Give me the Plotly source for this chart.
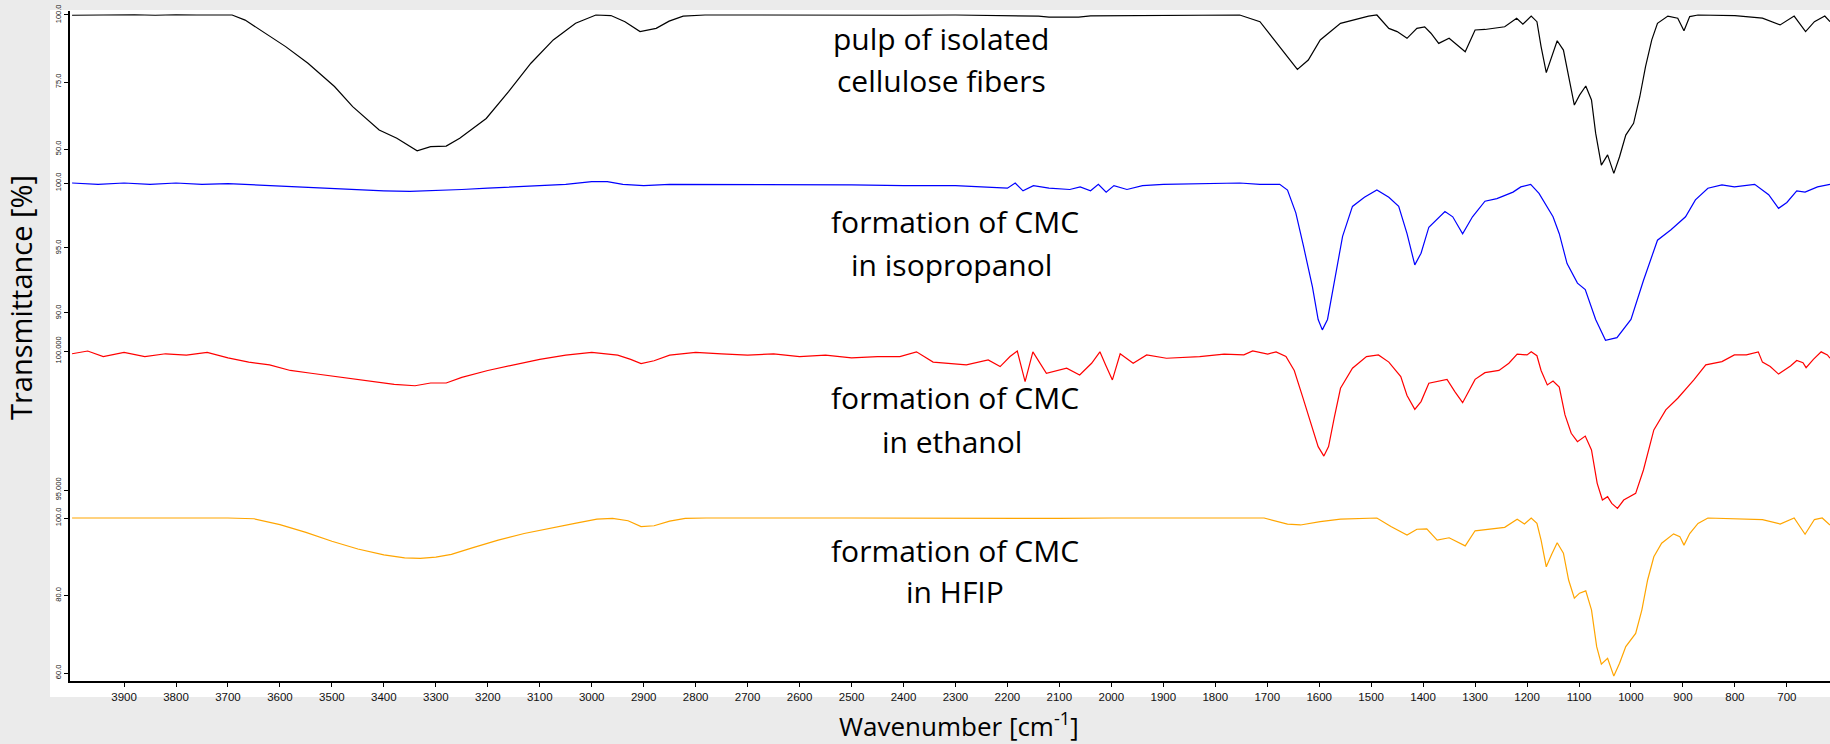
import plotly.graph_objects as go

# ---------------- data (wavenumber cm-1, transmittance %) ----------------
BLACK = [(4000,99.9),(3960,100.0),(3920,99.9),(3880,100.1),(3840,99.9),(3800,100.1),(3760,100.0),(3720,100.1),
         (3692,100.0),(3667,98.1),(3630,93.5),(3589,88.2),(3546,82.0),(3495,73.3),(3460,65.8),(3409,57.1),
         (3375,54.0),(3336,49.3),(3310,50.9),(3280,51.1),(3254,54.0),(3203,61.4),(3160,71.4),(3117,82.0),
         (3074,90.7),(3031,96.9),(2992,100.0),(2963,99.8),(2936,97.5),(2907,93.8),(2876,95.0),(2851,97.7),
         (2824,99.6),(2782,100.0),(2700,100.0),(2600,99.9),(2500,100.0),(2400,99.9),(2300,100.0),(2200,99.8),
         (2140,99.6),(2120,99.2),(2063,99.2),(2040,99.7),(1950,99.8),(1850,99.9),(1780,100.0),(1753,100.0),
         (1714,97.5),(1676,88.2),(1642,79.7),(1621,83.2),(1598,90.7),(1559,96.9),(1505,99.6),(1489,100.0),
         (1466,95.0),(1450,93.8),(1431,91.3),(1412,95.0),(1397,95.6),(1385,93.2),(1370,89.4),(1350,91.3),
         (1335,88.8),(1319,86.3),(1300,94.4),(1281,94.6),(1243,95.6),(1220,98.8),(1208,96.6),(1192,99.6),
         (1181,97.5),(1173,88.2),(1163,78.5),(1153,84.5),(1142,90.4),(1130,86.9),(1118,75.7),(1109,66.4),
         (1099,70.1),(1087,73.5),(1076,68.3),(1068,55.9),(1057,44.0),(1045,47.8),(1033,40.9),(1022,47.1),
         (1010,55.2),(995,59.6),(983,69.5),(972,80.7),(960,90.7),(949,96.9),(929,99.6),(910,98.8),(898,94.1),
         (887,99.4),(871,100.0),(800,99.8),(747,98.8),(713,96.3),(686,99.6),(664,93.8),(647,97.5),(627,99.6),
         (617,97.5)]

BLUE = [(4000,100.0),(3950,99.9),(3900,100.0),(3850,99.9),(3800,100.0),(3750,99.9),(3700,99.95),(3650,99.85),
        (3600,99.8),(3550,99.7),(3500,99.6),(3450,99.5),(3400,99.4),(3350,99.35),(3300,99.4),(3250,99.5),
        (3200,99.6),(3150,99.7),(3100,99.8),(3050,99.9),(3000,100.1),(2970,100.1),(2940,99.9),(2900,99.8),
        (2850,99.9),(2800,99.9),(2700,99.85),(2600,99.9),(2500,99.85),(2400,99.8),(2300,99.8),(2250,99.7),
        (2200,99.6),(2185,100.0),(2170,99.4),(2150,99.8),(2120,99.6),(2080,99.5),(2060,99.7),(2040,99.4),
        (2025,99.9),(2010,99.3),(1995,99.8),(1970,99.5),(1940,99.8),(1900,99.9),(1850,99.95),(1800,100.0),
        (1753,100.0),(1714,99.9),(1676,99.9),(1661,99.46),(1645,97.7),(1630,95.1),(1613,92.0),(1602,89.5),
        (1594,88.7),(1584,89.5),(1571,92.5),(1555,95.9),(1536,98.2),(1513,98.9),(1489,99.46),(1466,98.9),
        (1447,98.2),(1431,96.1),(1416,93.7),(1404,94.6),(1389,96.6),(1358,97.8),(1343,97.4),(1324,96.1),
        (1305,97.4),(1281,98.6),(1258,98.8),(1227,99.3),(1212,99.7),(1193,99.9),(1177,99.2),(1150,97.4),
        (1138,96.1),(1123,93.8),(1103,92.3),(1088,91.8),(1068,89.5),(1049,87.9),(1027,88.1),(1000,89.5),
        (976,92.5),(949,95.6),(923,96.4),(895,97.4),(876,98.7),(852,99.6),(825,99.85),(801,99.7),(762,99.9),
        (735,99.1),(716,98.05),(700,98.5),(681,99.4),(665,99.3),(641,99.7),(622,99.9),(617,99.9)]

RED = [(4000,99.9),(3970,100.0),(3940,99.8),(3900,99.95),(3860,99.8),(3820,99.9),(3780,99.85),(3740,99.95),
       (3700,99.75),(3660,99.6),(3620,99.5),(3580,99.3),(3540,99.2),(3500,99.1),(3460,99.0),(3420,98.9),
       (3380,98.8),(3340,98.75),(3310,98.85),(3280,98.85),(3250,99.05),(3200,99.3),(3150,99.5),(3100,99.7),
       (3050,99.85),(3000,99.95),(2950,99.85),(2925,99.7),(2905,99.55),(2880,99.65),(2850,99.85),(2800,99.95),
       (2750,99.9),(2700,99.85),(2650,99.9),(2600,99.8),(2550,99.85),(2500,99.75),(2450,99.8),(2407,99.8),
       (2375,99.97),(2343,99.6),(2279,99.5),(2237,99.68),(2214,99.44),(2195,99.8),(2181,100.0),(2166,98.9),
       (2151,99.97),(2137,99.56),(2125,99.2),(2086,99.38),(2061,99.14),(2038,99.56),(2022,99.97),(2011,99.5),
       (1998,98.96),(1983,99.9),(1958,99.56),(1932,99.86),(1894,99.74),(1830,99.8),(1783,99.89),(1745,99.86),
       (1728,100.0),(1699,99.89),(1683,99.97),(1664,99.8),(1648,99.3),(1632,98.36),(1617,97.5),(1602,96.56),
       (1591,96.22),(1582,96.56),(1571,97.6),(1559,98.66),(1536,99.38),(1509,99.8),(1486,99.86),(1466,99.6),
       (1443,99.08),(1431,98.4),(1416,97.9),(1404,98.18),(1389,98.84),(1373,98.9),(1354,98.98),(1339,98.54),
       (1324,98.14),(1300,98.98),(1281,99.22),(1254,99.3),(1235,99.56),(1219,99.89),(1200,99.86),(1192,99.97),
       (1181,99.83),(1173,99.3),(1161,98.78),(1150,98.92),(1138,98.7),(1127,97.7),(1115,97.04),(1103,96.74),
       (1088,96.94),(1076,96.44),(1065,95.24),(1055,94.64),(1045,94.76),(1037,94.52),(1026,94.34),(1014,94.64),
       (991,94.88),(976,95.72),(956,97.16),(933,97.88),(910,98.3),(879,98.96),(856,99.5),(825,99.62),
       (801,99.86),(778,99.86),(755,99.97),(747,99.6),(732,99.44),(716,99.17),(693,99.46),(681,99.66),
       (669,99.58),(663,99.4),(649,99.7),(634,99.97),(622,99.86),(617,99.74)]

ORANGE = [(4000,100.0),(3800,100.0),(3700,100.0),(3650,99.8),(3600,98.3),(3550,96.3),(3500,94.0),(3450,92.0),
          (3400,90.5),(3360,89.7),(3330,89.6),(3300,89.9),(3270,90.6),(3230,92.3),(3180,94.3),(3130,96.0),
          (3080,97.4),(3030,98.7),(2990,99.7),(2960,99.9),(2930,99.3),(2905,97.8),(2880,98.0),(2850,99.2),
          (2820,99.9),(2780,100.0),(2500,100.0),(2300,99.9),(2200,100.0),(2100,99.9),(2000,100.0),(1800,100.0),
          (1706,100.0),(1661,98.4),(1636,98.2),(1598,99.05),(1559,99.7),(1489,100.0),(1462,97.8),(1431,95.6),
          (1412,97.1),(1393,97.2),(1373,94.3),(1350,94.9),(1335,93.9),(1319,92.8),(1300,96.7),(1273,97.2),
          (1243,97.6),(1219,99.7),(1205,98.45),(1192,100.0),(1181,98.6),(1173,94.3),(1163,87.4),(1153,90.5),
          (1142,93.6),(1130,90.9),(1120,84.0),(1109,79.3),(1099,80.6),(1087,81.2),(1076,76.3),(1066,66.8),
          (1057,62.3),(1045,63.8),(1033,59.2),(1022,62.5),(1010,66.8),(991,70.2),(979,76.3),(968,84.0),
          (956,90.0),(941,93.5),(918,95.9),(906,95.2),(898,93.0),(887,96.0),(871,98.6),(852,100.0),(801,99.8),
          (747,99.6),(713,98.45),(686,100.0),(665,95.8),(647,99.6),(632,100.0),(617,98.2)]

X_TICKS = list(range(3900, 600, -100))
Y1_TICKS, Y1_TEXT = [100, 75, 50], ["100.0", "75.0", "50.0"]
Y2_TICKS, Y2_TEXT = [100, 95, 90], ["100.0", "95.0", "90.0"]
Y3_TICKS, Y3_TEXT = [100, 95], ["100.000", "95.000"]
Y4_TICKS, Y4_TEXT = [100, 80, 60], ["100.0", "80.0", "60.0"]

LABELS = [("pulp of isolated", 941, 38), ("cellulose fibers", 941, 81),
          ("formation of CMC", 955, 222), ("in isopropanol", 952, 264),
          ("formation of CMC", 955, 397), ("in ethanol", 952, 441),
          ("formation of CMC", 955, 550), ("in HFIP", 955, 591)]

# ---------------- layout geometry ----------------
W, H = 1830, 744
ML, MR, MT, MB = 70, 0, 11, 63
PW, PH = W - ML - MR, H - MT - MB


def fy(py):
    return (H - MB - py) / PH


def fx(px):
    return (px - ML) / PW


fig = go.Figure()
series = [(BLACK, "#000000", "y"), (BLUE, "#0000ff", "y2"), (RED, "#ff0000", "y3"), (ORANGE, "#ffa500", "y4")]
for data, col, ya in series:
    fig.add_trace(go.Scatter(x=[p[0] for p in data], y=[p[1] for p in data], mode="lines",
                             line=dict(color=col, width=1.2), yaxis=ya, xaxis="x", hoverinfo="skip"))

tickfont = dict(family="Liberation Sans, Arial", size=7.5, color="#111")
common_y = dict(showline=True, linecolor="black", linewidth=2, ticks="outside", ticklen=4, tickwidth=1.2,
                tickcolor="black", showgrid=False, zeroline=False, tickangle=-90, tickfont=tickfont,
                anchor="x", fixedrange=True)

fig.update_layout(
    width=W, height=H, margin=dict(l=ML, r=MR, t=MT, b=MB, pad=0),
    paper_bgcolor="#ebebeb", plot_bgcolor="white", showlegend=False,
    xaxis=dict(range=[4004, 617], tickvals=X_TICKS, ticktext=[str(v) for v in X_TICKS],
               showline=True, linecolor="black", linewidth=2, ticks="outside", ticklen=4, tickwidth=1.2,
               tickcolor="black", showgrid=False, zeroline=False, anchor="y4",
               tickfont=dict(family="Liberation Sans, Arial", size=11.5, color="#111")),
    yaxis=dict(domain=[fy(178), fy(11)], range=[39.18, 101.49], tickvals=Y1_TICKS, ticktext=Y1_TEXT, **common_y),
    yaxis2=dict(domain=[fy(346), fy(178)], range=[87.46, 100.385], tickvals=Y2_TICKS, ticktext=Y2_TEXT, **common_y),
    yaxis3=dict(domain=[fy(512), fy(346)], range=[94.209, 100.18], tickvals=Y3_TICKS, ticktext=Y3_TEXT, **common_y),
    yaxis4=dict(domain=[0, fy(512)], range=[57.935, 101.548], tickvals=Y4_TICKS, ticktext=Y4_TEXT, **common_y),
)

# white panel behind the plot
fig.add_shape(type="rect", xref="paper", yref="paper", x0=fx(50), x1=1.0, y0=fy(697), y1=fy(10),
              fillcolor="white", line=dict(width=0), layer="below")

lab_font = dict(family="Open Sans", size=30, color="black")
for txt, px, py in LABELS:
    fig.add_annotation(text=txt, x=fx(px), y=fy(py), xref="paper", yref="paper", showarrow=False,
                       xanchor="center", yanchor="middle", font=lab_font)

fig.add_annotation(text="Transmittance [%]", x=fx(20), y=fy(298), xref="paper", yref="paper",
                   showarrow=False, textangle=-90, xanchor="center", yanchor="middle",
                   font=dict(family="Open Sans", size=29, color="black"))
fig.add_annotation(text="Wavenumber [cm<sup>-1</sup>]", x=fx(959), y=fy(746), xref="paper", yref="paper",
                   showarrow=False, xanchor="center", yanchor="bottom",
                   font=dict(family="Open Sans", size=26, color="black"))

fig.write_html("out.html")
